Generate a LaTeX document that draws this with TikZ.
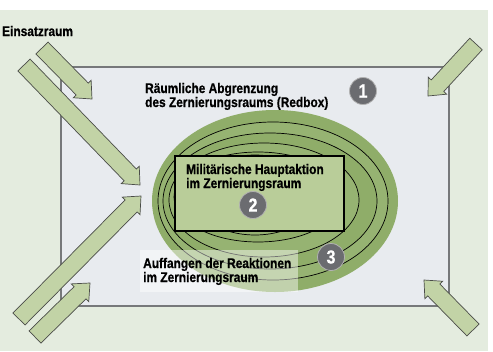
\documentclass[tikz,border=0pt]{standalone}
\usepackage{fontspec}
\setmainfont{Liberation Sans}[FakeStretch=0.85,BoldFeatures={FakeBold=0.6}]
\usetikzlibrary{calc}
\definecolor{bg}{HTML}{E4ECDF}
\definecolor{boxfill}{HTML}{E8EBEF}
\definecolor{boxline}{HTML}{76787A}
\definecolor{arrfill}{HTML}{C2D3A6}
\definecolor{arrline}{HTML}{4A4C48}
\definecolor{ringA}{HTML}{8FAD69}
\definecolor{ringB}{HTML}{96B372}
\definecolor{innerbox}{HTML}{B9CD99}
\definecolor{numgray}{HTML}{6B6C70}
\def\sw{8.5pt}
\def\hw{12.5pt}
\def\hl{14pt}
\newcommand\blockarrow[3]{%
  \coordinate (#3h) at ($(#2)!\hl!(#1)$);
  \filldraw[barrow] ($(#1)!\sw!90:(#2)$) -- ($(#3h)!\sw!-90:(#1)$) -- ($(#3h)!\hw!-90:(#1)$) -- (#2) -- ($(#3h)!\hw!90:(#1)$) -- ($(#3h)!\sw!90:(#1)$) -- ($(#1)!\sw!-90:(#2)$) -- cycle;}
\begin{document}
\begin{tikzpicture}[x=1pt,y=-1pt,
  barrow/.style={fill=arrfill,draw=arrline,line width=0.7pt,line join=miter},
  lbl/.style={anchor=base west,inner sep=0pt,font=\bfseries\fontsize{14}{14}\selectfont,text=black},
  numc/.style={circle,fill=numgray,draw=gray!60,line width=0.8pt,minimum size=27pt,inner sep=0pt,text=white,font=\bfseries\fontsize{19}{19}\selectfont},
  ring/.style={draw=black,line width=0.7pt}]
\useasboundingbox (0,0) rectangle (493,351);
\fill[white] (0,0) rectangle (493,351);
\fill[bg] (0,10) rectangle (488,351);
% redbox
\filldraw[fill=boxfill,draw=boxline,line width=1.5pt] (61,67) rectangle (449,306);
% rings
\fill[ringA] (275,201) ellipse [x radius=123, y radius=91];
\filldraw[ring,fill=ringB] (273,201) ellipse [x radius=115, y radius=79];
\filldraw[ring,fill=ringA] (270,201) ellipse [x radius=107, y radius=68];
\filldraw[ring,fill=ringB] (264,200) ellipse [x radius=95, y radius=57];
\filldraw[ring,fill=ringA] (258,197) ellipse [x radius=84, y radius=45];
\filldraw[ring,fill=ringB] (255,195) ellipse [x radius=62, y radius=40];
% inner box
\filldraw[fill=innerbox,draw=black,line width=2pt] (175,156) rectangle (344,231);
\node[lbl] (t2a) at (186,174) {Militärische Hauptaktion};
\node[lbl] (t2b) at (186,188) {im Zernierungsraum};
\node[numc] (n2) at (253,205) {2};
% Auffangen
\fill[white,opacity=0.45] (140,250) rectangle (298,292);
\node[lbl] (t3a) at (143,268) {Auffangen der Reaktionen};
\node[lbl] (t3b) at (143,282) {im Zernierungsraum};
\node[numc] (n3) at (331,257) {3};
% top label
\node[lbl] (t1a) at (145,93) {Räumliche Abgrenzung};
\node[lbl] (t1b) at (145,107) {des Zernierungsraums (Redbox)};
\node[numc] (n1) at (363,91) {1};
\node[lbl] (te) at (2,36) {Einsatzraum};
% arrows
\coordinate (a1t) at (42,48);  \coordinate (a1p) at (92,99);
\coordinate (a2t) at (24,65);  \coordinate (a2p) at (140,185);
\coordinate (a3t) at (19,319); \coordinate (a3p) at (141,196);
\coordinate (a4t) at (35,337); \coordinate (a4p) at (90,283);
\coordinate (a5t) at (476,44); \coordinate (a5p) at (428,96);
\coordinate (a6t) at (473,330);\coordinate (a6p) at (424,280);
\blockarrow{a1t}{a1p}{a1}
\blockarrow{a2t}{a2p}{a2}
\blockarrow{a3t}{a3p}{a3}
\blockarrow{a4t}{a4p}{a4}
\blockarrow{a5t}{a5p}{a5}
\blockarrow{a6t}{a6p}{a6}
\end{tikzpicture}
\end{document}
